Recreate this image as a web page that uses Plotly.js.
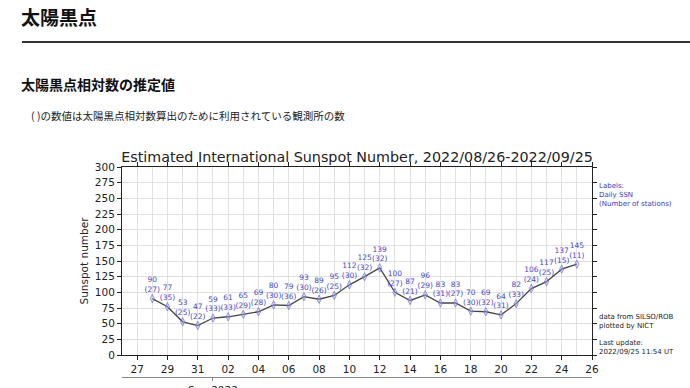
<!DOCTYPE html>
<html><head><meta charset="utf-8">
<script src="https://cdn.plot.ly/plotly-3.0.1.min.js"></script>
<style>
html,body{margin:0;padding:0;background:#fff;width:690px;height:388px;overflow:hidden;}
#chart{position:absolute;left:0;top:0;width:690px;height:388px;}
.hdr{position:absolute;font-family:"Noto Sans CJK JP",sans-serif;color:#111;white-space:nowrap;z-index:5;}
</style></head><body>
<div id="chart"></div>
<div class="hdr" style="left:21px;top:4px;font-size:19px;font-weight:bold;line-height:26px;">太陽黒点</div>
<div style="position:absolute;left:22px;top:41px;width:668px;height:2px;background:#333;z-index:5"></div>
<div class="hdr" style="left:21px;top:74px;font-size:14px;font-weight:bold;line-height:20px;">太陽黒点相対数の推定値</div>
<div class="hdr" style="left:31px;top:109px;font-size:10.5px;line-height:14px;color:#222">( )の数値は太陽黒点相対数算出のために利用されている観測所の数</div>
<script>
const dates = ['2022-08-28','2022-08-29','2022-08-30','2022-08-31','2022-09-01','2022-09-02','2022-09-03','2022-09-04','2022-09-05','2022-09-06','2022-09-07','2022-09-08','2022-09-09','2022-09-10','2022-09-11','2022-09-12','2022-09-13','2022-09-14','2022-09-15','2022-09-16','2022-09-17','2022-09-18','2022-09-19','2022-09-20','2022-09-21','2022-09-22','2022-09-23','2022-09-24','2022-09-25'];
const ssn = [90,77,53,47,59,61,65,69,80,79,93,89,95,112,125,139,100,87,96,83,83,70,69,64,82,106,117,137,145];
const stations = [27,35,25,22,33,33,29,28,30,36,30,26,25,30,32,32,27,21,29,31,27,30,32,31,33,24,25,15,11];
const xRange = ['2022-08-26','2022-09-26'];
const yTicks = [0,25,50,75,100,125,150,175,200,225,250,275,300];
const monthTickVals = ['2022-09-01'];
const monthTickText = ['Sep 2022'];
const chartTitle = 'Estimated International Sunspot Number, 2022/08/26-2022/09/25';
const labelsNote = 'Labels:<br>Daily SSN<br>(Number of stations)';
const sourceNote = 'data from SILSO/ROB<br>plotted by NICT';
const updateNote = 'Last update:<br>2022/09/25 11:54 UT';

const labels = ssn.map((v,i)=> v + '<br>(' + stations[i] + ')');
const FONT = 'DejaVu Sans, sans-serif';
const W=690,H=388,L=122,R=98,T=167,B=11;
const plotW = W-L-R, plotH = H-T-B;
const px2x = p => (p-L)/plotW;
const py2y = p => (H-B-p)/plotH;

const traces = [
 {x: dates, y: ssn, type:'scatter', mode:'lines+markers+text', text: labels,
  textposition:'top center', cliponaxis:false,
  textfont:{family:FONT,size:7.5,color:'#4848c8'},
  line:{color:'#444',width:1.3},
  marker:{symbol:'diamond-tall',size:6,color:'rgba(175,175,240,0.4)',line:{color:'rgba(105,105,215,0.65)',width:1}},
  hoverinfo:'skip', showlegend:false},
 {x:[dates[0]], y:[null], xaxis:'x2', yaxis:'y', type:'scatter', mode:'markers', hoverinfo:'skip', showlegend:false}
];

const layout = {
 width:W, height:H, margin:{l:L,r:R,t:T,b:B,pad:0},
 paper_bgcolor:'rgba(0,0,0,0)', plot_bgcolor:'#fff',
 font:{family:FONT,color:'#222',size:10.5},
 title:{text:chartTitle, x:0.5, xref:'paper', xanchor:'center', y:1-157/H, yref:'container', yanchor:'middle', font:{family:FONT,size:14.3,color:'#222'}},
 xaxis:{type:'date', range:xRange, anchor:'y', tick0:'2022-08-27', dtick:2*86400000, tickformat:'%d',
   showline:true, linecolor:'#222', linewidth:1, mirror:'ticks', ticks:'outside', ticklen:4, tickcolor:'#222',
   showgrid:true, gridcolor:'#dadada', gridwidth:0.8, zeroline:false,
   minor:{dtick:86400000, tick0:'2022-08-27', showgrid:true, gridcolor:'#dadada', gridwidth:0.8, ticks:''},
   tickfont:{family:FONT,size:10.5,color:'#222'}},
 xaxis2:{type:'date', range:xRange, overlaying:'x', anchor:'free', position:0, side:'bottom',
   tickvals:monthTickVals, ticktext:monthTickText, showline:true, linecolor:'#888', linewidth:1,
   ticks:'outside', ticklen:3, tickcolor:'#888', showgrid:false, zeroline:false,
   tickfont:{family:FONT,size:10.5,color:'#222'}},
 yaxis:{range:[0,300], domain:[py2y(355),1], tickvals:yTicks,
   showline:true, linecolor:'#222', linewidth:1, mirror:'ticks', ticks:'outside', ticklen:4, tickcolor:'#222',
   showgrid:true, gridcolor:'#dadada', gridwidth:0.8, zeroline:false,
   tickfont:{family:FONT,size:10.5,color:'#222'},
   title:{text:'Sunspot number', standoff:4, font:{family:FONT,size:10.5,color:'#222'}}},
 annotations:[
  {text:labelsNote, xref:'paper', yref:'paper', x:px2x(597), y:py2y(180), xanchor:'left', yanchor:'top', align:'left', showarrow:false, font:{family:FONT,size:7,color:'#3a3ac0'}},
  {text:sourceNote, xref:'paper', yref:'paper', x:px2x(597), y:py2y(311), xanchor:'left', yanchor:'top', align:'left', showarrow:false, font:{family:FONT,size:7,color:'#222'}},
  {text:updateNote, xref:'paper', yref:'paper', x:px2x(597), y:py2y(336.5), xanchor:'left', yanchor:'top', align:'left', showarrow:false, font:{family:FONT,size:7,color:'#222'}}
 ]
};
Plotly.newPlot('chart', traces, layout, {staticPlot:true, displayModeBar:false});
</script>
</body></html>
